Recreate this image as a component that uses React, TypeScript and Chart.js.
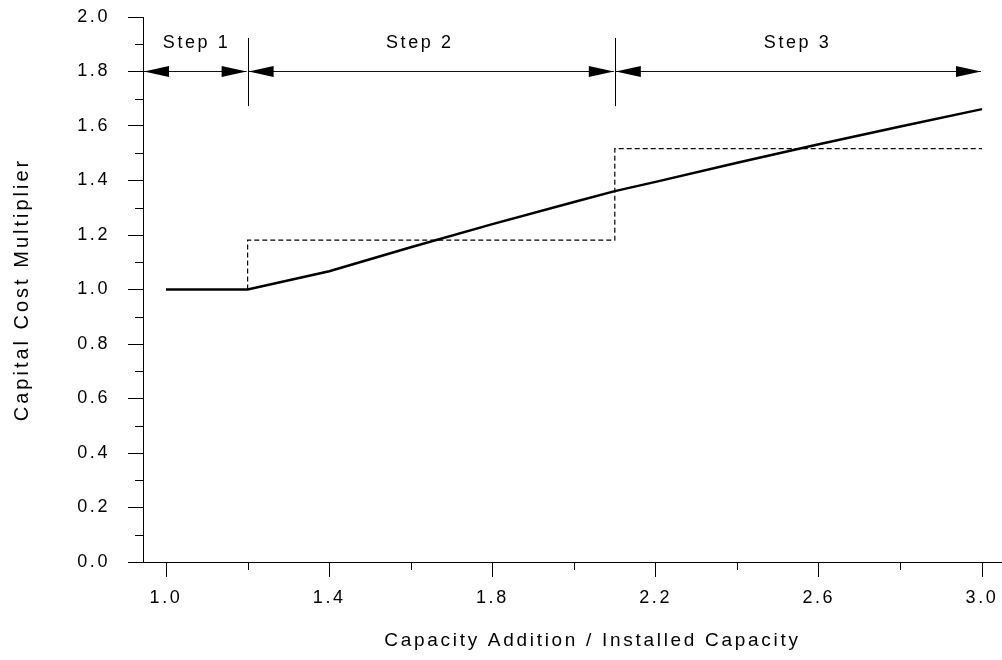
import React, { useEffect, useRef } from "react";
import { Chart, registerables } from "chart.js";

Chart.register(...registerables);

// ---- data ----
const curveX = [1.0, 1.2, 1.4, 1.6, 1.8, 2.0, 2.1, 2.2, 2.4, 2.6, 2.8, 3.0];
const curveY = [1.0, 1.0, 1.067, 1.155, 1.24, 1.321, 1.361, 1.395, 1.465, 1.533, 1.598, 1.662];

const stepX = [1.2, 1.2, 2.1, 2.1, 3.0];
const stepY = [1.0, 1.181, 1.181, 1.517, 1.517];

const xTicks = [1.0, 1.4, 1.8, 2.2, 2.6, 3.0];
const xMinorTicks = [1.2, 1.6, 2.0, 2.4, 2.8];
const yTicks = [0, 0.2, 0.4, 0.6, 0.8, 1.0, 1.2, 1.4, 1.6, 1.8, 2.0];
const yMinorTicks = [0.1, 0.3, 0.5, 0.7, 0.9, 1.1, 1.3, 1.5, 1.7, 1.9];

const X_MIN = 0.9436;
const X_MAX = 3.049;

const xTitle = "Capacity Addition / Installed Capacity";
const yTitle = "Capital Cost Multiplier";

const stepLabels = ["Step 1", "Step 2", "Step 3"];
const stepStarts = [X_MIN, 1.2, 2.1];
const stepEnds = [1.2, 2.1, 3.0];
const stepLabelX = [1.075, 1.622, 2.548];
const stepLabelY = 1.906;
const arrowY = 1.8;
const separatorX = [1.2, 2.1];
const separatorTop = 1.923;
const separatorBottom = 1.673;

const FONT = "'Liberation Sans', Arial, sans-serif";
const SPACING = "2.6px";

const annotationPlugin = {
  id: "annot",
  beforeDraw(chart: any) {
    try {
      chart.ctx.letterSpacing = SPACING;
    } catch (e) {}
  },
  afterDraw(chart: any) {
    const ctx = chart.ctx;
    const xs = chart.scales.x;
    const ys = chart.scales.y;
    ctx.save();
    ctx.strokeStyle = "#000";
    ctx.fillStyle = "#000";
    ctx.lineWidth = 1;
    // minor ticks
    const axisX = chart.chartArea.left;
    const axisY = chart.chartArea.bottom;
    ctx.beginPath();
    yMinorTicks.forEach((v) => {
      const p = Math.round(ys.getPixelForValue(v)) + 0.5;
      ctx.moveTo(axisX - 8, p);
      ctx.lineTo(axisX, p);
    });
    xMinorTicks.forEach((v) => {
      const p = Math.round(xs.getPixelForValue(v)) + 0.5;
      ctx.moveTo(p, axisY);
      ctx.lineTo(p, axisY + 8);
    });
    ctx.stroke();

    // separators
    ctx.beginPath();
    separatorX.forEach((v) => {
      const p = Math.round(xs.getPixelForValue(v)) + 0.5;
      ctx.moveTo(p, ys.getPixelForValue(separatorTop));
      ctx.lineTo(p, ys.getPixelForValue(separatorBottom));
    });
    ctx.stroke();

    // arrows
    const ay = Math.round(ys.getPixelForValue(arrowY)) + 0.5;
    const L = 25;
    const H = 5.5;
    stepStarts.forEach((s, i) => {
      const x0 = xs.getPixelForValue(s) + 1;
      const x1 = xs.getPixelForValue(stepEnds[i]) - 1;
      ctx.strokeStyle = "#111";
      ctx.beginPath();
      ctx.moveTo(x0, ay);
      ctx.lineTo(x1, ay);
      ctx.stroke();
      ctx.beginPath();
      ctx.moveTo(x0, ay);
      ctx.lineTo(x0 + L, ay - H);
      ctx.lineTo(x0 + L, ay + H);
      ctx.closePath();
      ctx.fill();
      ctx.beginPath();
      ctx.moveTo(x1, ay);
      ctx.lineTo(x1 - L, ay - H);
      ctx.lineTo(x1 - L, ay + H);
      ctx.closePath();
      ctx.fill();
    });

    // step labels
    ctx.font = `18px ${FONT}`;
    ctx.textAlign = "center";
    ctx.textBaseline = "middle";
    ctx.fillStyle = "#000";
    stepLabels.forEach((t, i) => {
      ctx.fillText(t, xs.getPixelForValue(stepLabelX[i]), ys.getPixelForValue(stepLabelY));
    });

    // axis titles
    ctx.font = `19px ${FONT}`;
    ctx.letterSpacing = "2.7px";
    ctx.fillText(xTitle, (xs.left + xs.right) / 2 + 20, 641);
    ctx.save();
    ctx.translate(22, (ys.top + ys.bottom) / 2);
    ctx.rotate(-Math.PI / 2);
    ctx.font = `20px ${FONT}`;
    ctx.letterSpacing = "3px";
    ctx.fillText(yTitle, 0, 0);
    ctx.restore();
    ctx.restore();
  },
};

export default function App() {
  const ref = useRef<HTMLCanvasElement | null>(null);
  useEffect(() => {
    if (!ref.current) return;
    const chart = new Chart(ref.current, {
      type: "line",
      data: {
        datasets: [
          {
            data: curveX.map((x, i) => ({ x, y: curveY[i] })),
            borderColor: "#000",
            borderWidth: 2.5,
            pointRadius: 0,
            tension: 0,
            fill: false,
          },
          {
            data: stepX.map((x, i) => ({ x, y: stepY[i] })),
            borderColor: "#000",
            borderWidth: 1.2,
            borderDash: [5, 3],
            pointRadius: 0,
            tension: 0,
            fill: false,
          },
        ],
      },
      options: {
        responsive: false,
        animation: false,
        layout: { padding: { top: 17, right: 0, left: 0, bottom: 0 } },
        plugins: { legend: { display: false }, tooltip: { enabled: false } },
        scales: {
          x: {
            type: "linear",
            min: X_MIN,
            max: X_MAX,
            afterBuildTicks: (s: any) => {
              s.ticks = xTicks.map((v) => ({ value: v }));
            },
            afterFit: (s: any) => {
              s.height = 98;
              s.paddingLeft = 0;
              s.paddingRight = 0;
            },
            grid: { drawOnChartArea: false, drawTicks: true, tickLength: 15, color: "#000", lineWidth: 1 },
            border: { display: true, color: "#000", width: 1 },
            ticks: {
              color: "#000",
              font: { family: FONT, size: 18 },
              padding: 10,
              maxRotation: 0,
              autoSkip: false,
              callback: (v: any) => Number(v).toFixed(1),
            },
            title: { display: false },
          },
          y: {
            type: "linear",
            min: 0,
            max: 2,
            afterBuildTicks: (s: any) => {
              s.ticks = yTicks.map((v) => ({ value: v }));
            },
            afterFit: (s: any) => {
              s.width = 143;
              s.paddingTop = 0;
              s.paddingBottom = 0;
            },
            grid: { drawOnChartArea: false, drawTicks: true, tickLength: 15, color: "#000", lineWidth: 1 },
            border: { display: true, color: "#000", width: 1 },
            ticks: {
              color: "#000",
              font: { family: FONT, size: 18 },
              padding: 18,
              autoSkip: false,
              callback: (v: any) => Number(v).toFixed(1),
            },
            title: { display: false },
          },
        },
      },
      plugins: [annotationPlugin],
    });
    return () => chart.destroy();
  }, []);
  return (
    <div style={{ position: "absolute", left: 0, top: 0, width: 1002, height: 660, background: "#fff" }}>
      <canvas ref={ref} width={1002} height={660} />
    </div>
  );
}
